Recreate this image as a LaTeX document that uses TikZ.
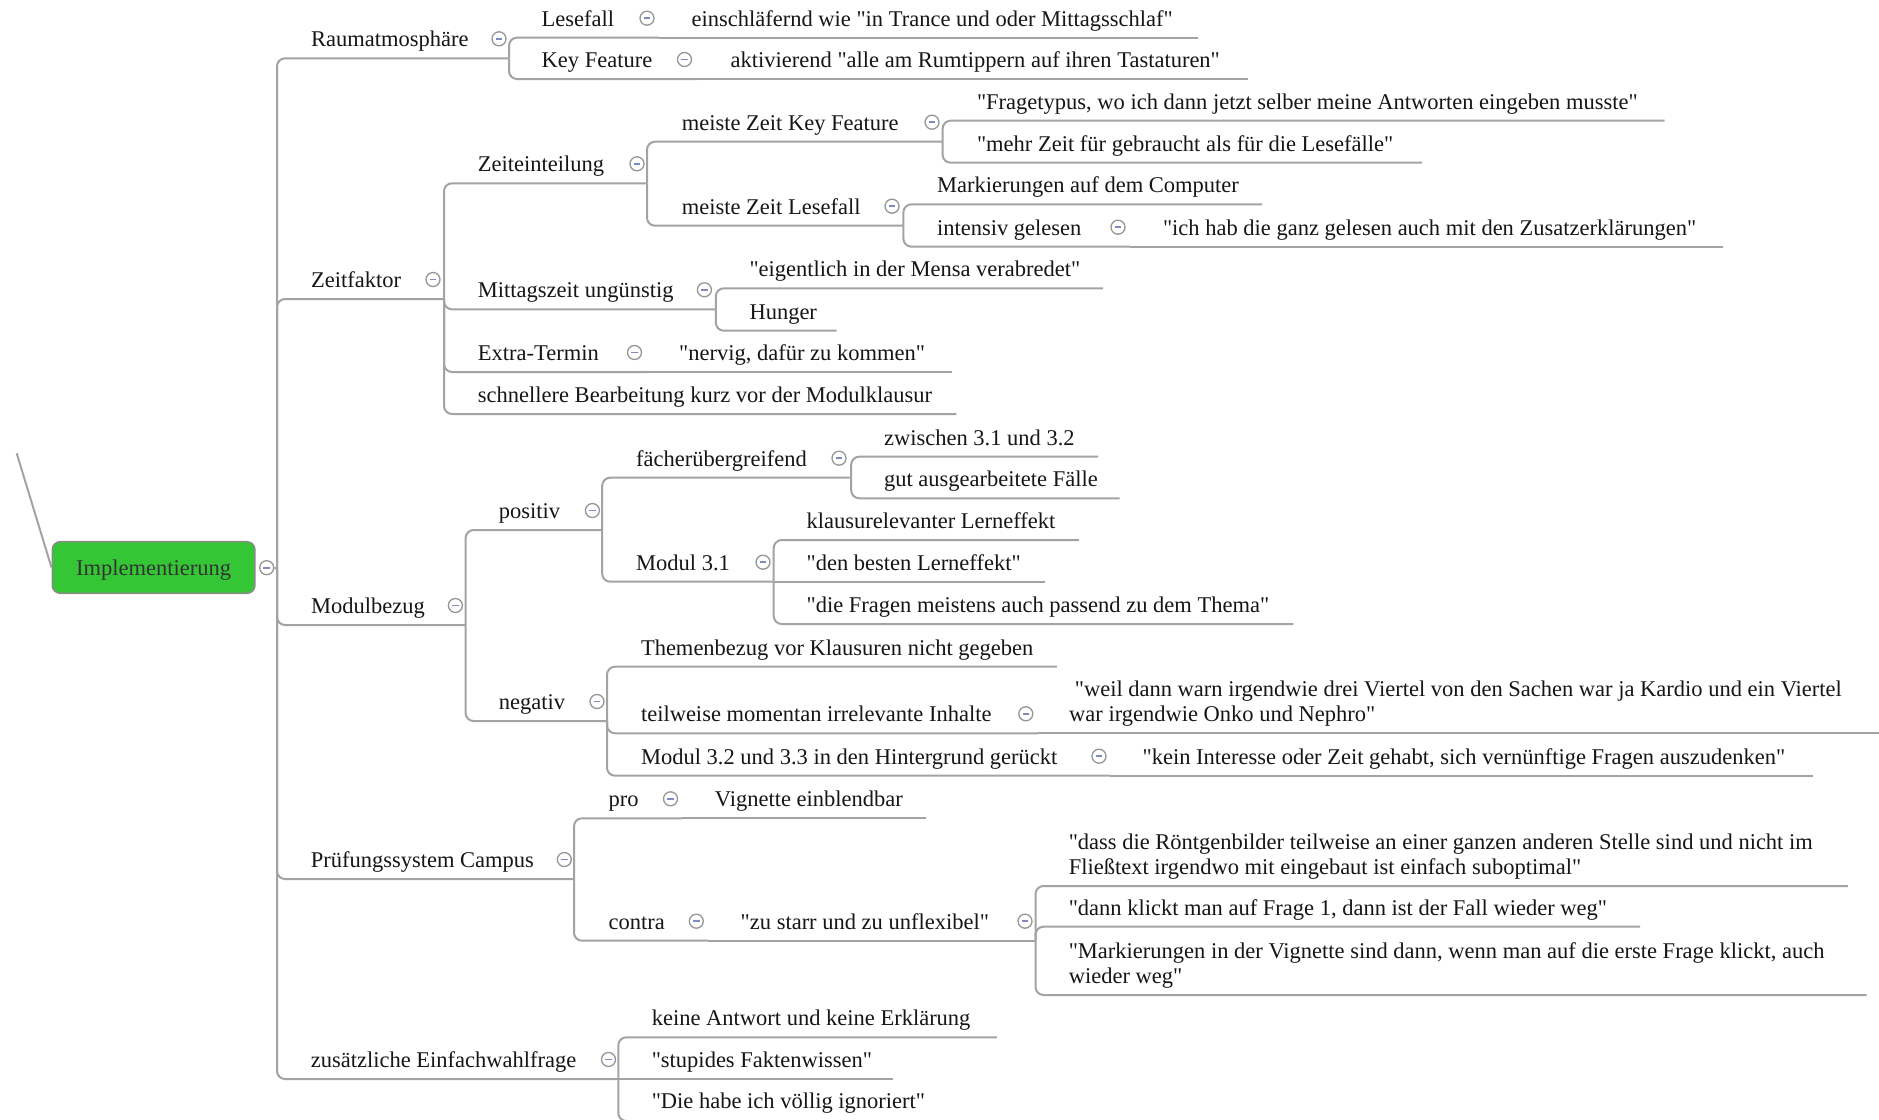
\documentclass[tikz,border=0pt]{standalone}
\usepackage{fontspec}
\setmainfont{Liberation Serif}[Ligatures=TeXOff]
\definecolor{linec}{RGB}{163,163,163}
\definecolor{foldc}{RGB}{150,150,150}
\definecolor{minusc}{RGB}{128,138,190}
\definecolor{rootfill}{RGB}{52,198,52}
\definecolor{rootedge}{RGB}{138,138,138}
\definecolor{inkc}{RGB}{22,22,22}
\newcommand{\twolines}[2]{\vtop{\baselineskip=25pt\hbox{#1}\hbox{#2}}}
\begin{document}
\begin{tikzpicture}[x=1pt,y=-1pt,
  txt/.style={anchor=base west,inner sep=0pt,text=inkc,font=\fontsize{22.5}{26}\selectfont},
  link/.style={draw=linec,line width=2pt,rounded corners=8pt},
  fold/.style={circle,draw=foldc,line width=1.3pt,fill=white,minimum size=14pt,inner sep=0pt,
    path picture={\draw[minusc,line width=1.7pt]
      ([xshift=-3.3pt]path picture bounding box.center) -- ([xshift=3.3pt]path picture bounding box.center);}},
  rootbox/.style={draw=rootedge,line width=1.5pt,fill=rootfill,rounded corners=8pt,
    minimum width=202.7pt,minimum height=51.6pt,inner sep=0pt,text=black!80,
    text height=17pt,text depth=2pt,
    font=\fontsize{22.5}{26}\selectfont}]
\fill[white] (0,0) rectangle (1879,1119);
\useasboundingbox (0,0) rectangle (1879,1119);

% root
\node[rootbox] (root) at (153.6,567.5) {Implementierung};
\coordinate (up) at (16.7,453.3);
\coordinate (roote) at (277,568.7);

% first level
\node[txt] (r1) at (311,46.8) {Raumatmosphäre};
\coordinate (r1e) at (509,58.3);
\node[txt] (z) at (311,287.5) {Zeitfaktor};
\coordinate (ze) at (444,299);
\node[txt] (m) at (311,613.5) {Modulbezug};
\coordinate (me) at (465.6,625);
\node[txt] (p) at (310.6,867.5) {Prüfungssystem Campus};
\coordinate (pe) at (574,879);
\node[txt] (e) at (310.6,1067.5) {zusätzliche Einfachwahlfrage};
\coordinate (ee) at (618.3,1079);

% Raumatmosphäre
\node[txt] (a1) at (541.5,26.2) {Lesefall};
\coordinate (a1e) at (659,37.7);
\node[txt] (a1x) at (691.4,26.2) {einschläfernd wie "in Trance und oder Mittagsschlaf"};
\coordinate (a1xe) at (1198,37.7);
\node[txt] (a2) at (541.5,67.5) {Key Feature};
\coordinate (a2e) at (697,79);
\node[txt] (a2x) at (730.5,67.5) {aktivierend "alle am Rumtippern auf ihren Tastaturen"};
\coordinate (a2xe) at (1248.4,79);

% Zeitfaktor
\node[txt] (z1) at (477.7,171.8) {Zeiteinteilung};
\coordinate (z1e) at (647,183.3);
\node[txt] (z11) at (681.6,130.2) {meiste Zeit Key Feature};
\coordinate (z11e) at (942.6,141.7);
\node[txt] (z111) at (976.8,109.2) {"Fragetypus, wo ich dann jetzt selber meine Antworten eingeben musste"};
\coordinate (z111e) at (1664.5,120.7);
\node[txt] (z112) at (976.8,151.2) {"mehr Zeit für gebraucht als für die Lesefälle"};
\coordinate (z112e) at (1422,162.7);
\node[txt] (z12) at (681.6,214.2) {meiste Zeit Lesefall};
\coordinate (z12e) at (903.4,225.7);
\node[txt] (z121) at (936.9,192.8) {Markierungen auf dem Computer};
\coordinate (z121e) at (1262,204.3);
\node[txt] (z122) at (936.9,235.2) {intensiv gelesen};
\coordinate (z122e) at (1130,246.7);
\node[txt] (z122x) at (1162.8,235.2) {"ich hab die ganz gelesen auch mit den Zusatzerklärungen"};
\coordinate (z122xe) at (1723,246.7);
\node[txt] (z2) at (477.7,297.8) {Mittagszeit ungünstig};
\coordinate (z2e) at (715.8,309.3);
\node[txt] (z21) at (749.3,276.8) {"eigentlich in der Mensa verabredet"};
\coordinate (z21e) at (1103,288.3);
\node[txt] (z22) at (749.3,319.2) {Hunger};
\coordinate (z22e) at (836.5,330.7);
\node[txt] (z3) at (477.7,360.5) {Extra-Termin};
\coordinate (z3e) at (647,372);
\node[txt] (z3x) at (679,360.5) {"nervig, dafür zu kommen"};
\coordinate (z3xe) at (952,372);
\node[txt] (z4) at (477.7,402.5) {schnellere Bearbeitung kurz vor der Modulklausur};
\coordinate (z4e) at (956.4,414);

% Modulbezug
\node[txt] (m1) at (498.7,518.5) {positiv};
\coordinate (m1e) at (602.2,530);
\node[txt] (m11) at (636,466.2) {fächerübergreifend};
\coordinate (m11e) at (851.2,477.7);
\node[txt] (m111) at (883.9,445.2) {zwischen 3.1 und 3.2};
\coordinate (m111e) at (1098,456.7);
\node[txt] (m112) at (883.9,486.8) {gut ausgearbeitete Fälle};
\coordinate (m112e) at (1119.6,498.3);
\node[txt] (m12) at (636,570.2) {Modul 3.1};
\coordinate (m12e) at (773.7,581.7);
\node[txt] (m121) at (806.4,528.5) {klausurelevanter Lerneffekt};
\coordinate (m121e) at (1078.8,540);
\node[txt] (m122) at (806.4,570.2) {"den besten Lerneffekt"};
\coordinate (m122e) at (1045.4,581.7);
\node[txt] (m123) at (806.4,612.5) {"die Fragen meistens auch passend zu dem Thema"};
\coordinate (m123e) at (1293.3,624);
\node[txt] (m2) at (498.7,709.5) {negativ};
\coordinate (m2e) at (607,721);
\node[txt] (m21) at (640.8,655.2) {Themenbezug vor Klausuren nicht gegeben};
\coordinate (m21e) at (1056.8,666.7);
\node[txt] (m22) at (640.8,721.8) {teilweise momentan irrelevante Inhalte};
\coordinate (m22e) at (1038,733.3);
\node[txt] (m22x) at (1069,696.8) {\twolines{\ "weil dann warn irgendwie drei Viertel von den Sachen war ja Kardio und ein Viertel}{war irgendwie Onko und Nephro"}};
\coordinate (m22xe) at (1890,733.3);
\node[txt] (m23) at (640.8,764.2) {Modul 3.2 und 3.3 in den Hintergrund gerückt};
\coordinate (m23e) at (1110,775.7);
\node[txt] (m23x) at (1142.4,764.2) {"kein Interesse oder Zeit gehabt, sich vernünftige Fragen auszudenken"};
\coordinate (m23xe) at (1813,775.7);

% Prüfungssystem Campus
\node[txt] (p1) at (608.5,806.8) {pro};
\coordinate (p1e) at (682,818.3);
\node[txt] (p1x) at (714.7,806.8) {Vignette einblendbar};
\coordinate (p1xe) at (926,818.3);
\node[txt] (p2) at (608.5,929.2) {contra};
\coordinate (p2e) at (708,940.7);
\node[txt] (p2x) at (740.5,929.2) {"zu starr und zu unflexibel"};
\coordinate (p2xe) at (1035.5,940.7);
\node[txt] (p21) at (1068.6,849) {\twolines{"dass die Röntgenbilder teilweise an einer ganzen anderen Stelle sind und nicht im}{Fließtext irgendwo mit eingebaut ist einfach suboptimal"}};
\coordinate (p21e) at (1847.8,886);
\node[txt] (p22) at (1068.6,915.2) {"dann klickt man auf Frage 1, dann ist der Fall wieder weg"};
\coordinate (p22e) at (1640,926.7);
\node[txt] (p23) at (1068.6,958) {\twolines{"Markierungen in der Vignette sind dann, wenn man auf die erste Frage klickt, auch}{wieder weg"}};
\coordinate (p23e) at (1866.5,995);

% zusätzliche Einfachwahlfrage
\node[txt] (e1) at (651.6,1025.8) {keine Antwort und keine Erklärung};
\coordinate (e1e) at (996.8,1037.3);
\node[txt] (e2) at (651.6,1067.5) {"stupides Faktenwissen"};
\coordinate (e2e) at (892.6,1079);
\node[txt] (e3) at (651.6,1108.8) {"Die habe ich völlig ignoriert"};
\coordinate (e3e) at (960,1121);

% connectors
\draw[link] (up) -- (root.west);
\foreach \c in {r1e,ze,me,pe,ee} \draw[link] (roote) |- (\c);
\foreach \c in {a1e,a2e} \draw[link] (r1e) |- (\c);
\draw[link] (a1e) -- (a1xe);
\draw[link] (a2e) -- (a2xe);
\foreach \c in {z1e,z2e,z3e,z4e} \draw[link] (ze) |- (\c);
\foreach \c in {z11e,z12e} \draw[link] (z1e) |- (\c);
\foreach \c in {z111e,z112e} \draw[link] (z11e) |- (\c);
\foreach \c in {z121e,z122e} \draw[link] (z12e) |- (\c);
\draw[link] (z122e) -- (z122xe);
\foreach \c in {z21e,z22e} \draw[link] (z2e) |- (\c);
\draw[link] (z3e) -- (z3xe);
\foreach \c in {m1e,m2e} \draw[link] (me) |- (\c);
\foreach \c in {m11e,m12e} \draw[link] (m1e) |- (\c);
\foreach \c in {m111e,m112e} \draw[link] (m11e) |- (\c);
\foreach \c in {m121e,m123e} \draw[link] (m12e) |- (\c);
\draw[link] (m12e) -- (m122e);
\foreach \c in {m21e,m22e,m23e} \draw[link] (m2e) |- (\c);
\draw[link] (m22e) -- (m22xe);
\draw[link] (m23e) -- (m23xe);
\foreach \c in {p1e,p2e} \draw[link] (pe) |- (\c);
\draw[link] (p1e) -- (p1xe);
\draw[link] (p2e) -- (p2xe);
\foreach \c in {p21e,p22e,p23e} \draw[link] (p2xe) |- (\c);
\foreach \c in {e1e,e3e} \draw[link] (ee) |- (\c);
\draw[link] (ee) -- (e2e);

% fold markers
\node[fold] (rootc) at (266.7,567.7) {};
\draw[link] (rootc.east) -- (roote);
\node[fold] (r1c) at (499,38.8) {};
\node[fold] (zc) at (433,279.5) {};
\node[fold] (mc) at (455.4,605.5) {};
\node[fold] (pc) at (564.3,859.5) {};
\node[fold] (ec) at (608.5,1059.5) {};
\node[fold] (a1c) at (647,18.2) {};
\node[fold] (a2c) at (684.5,59.5) {};
\node[fold] (z1c) at (637,163.8) {};
\node[fold] (z11c) at (932,122.2) {};
\node[fold] (z12c) at (892,206.2) {};
\node[fold] (z122c) at (1118,227.2) {};
\node[fold] (z2c) at (704.4,289.8) {};
\node[fold] (z3c) at (634.5,352.5) {};
\node[fold] (m1c) at (592.4,510.5) {};
\node[fold] (m11c) at (839,458.2) {};
\node[fold] (m12c) at (763,562.2) {};
\node[fold] (m2c) at (597,701.5) {};
\node[fold] (m22c) at (1025.8,713.8) {};
\node[fold] (m23c) at (1099,756.2) {};
\node[fold] (p1c) at (670.5,798.8) {};
\node[fold] (p2c) at (696.3,921.2) {};
\node[fold] (p2xc) at (1025,921.2) {};
\end{tikzpicture}
\end{document}
